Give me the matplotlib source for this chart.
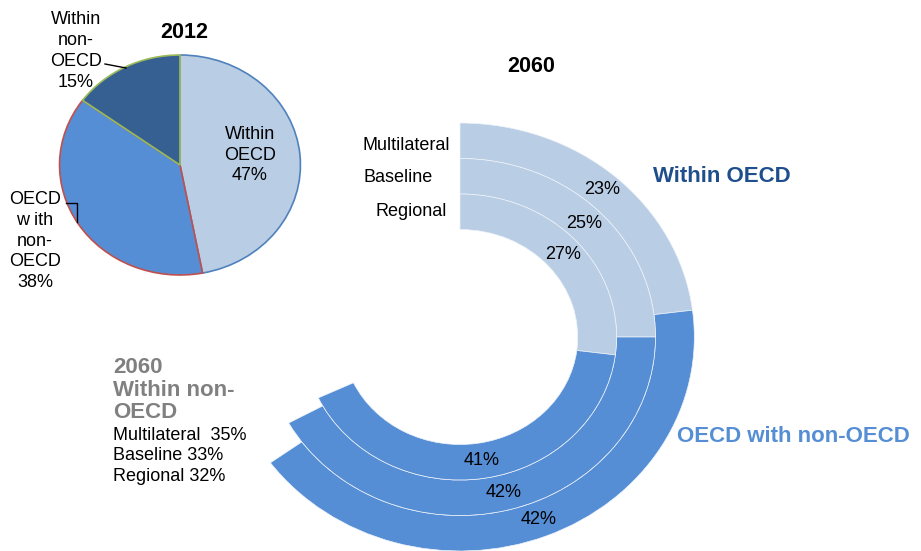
import numpy as np
import matplotlib.pyplot as plt

plt.rcParams['font.family'] = ['Liberation Sans', 'DejaVu Sans']

# 2012 trade shares
shares_2012 = [47, 38, 15]  # Within OECD, OECD with non-OECD, Within non-OECD

# 2060 scenarios, outer ring -> inner ring
scenarios = ["Multilateral", "Baseline", "Regional"]
within_oecd = [23, 25, 27]
oecd_with_non = [42, 42, 41]
within_non_oecd = [35, 33, 32]

W, H = 921, 551
SX = 1.095  # the original chart is a bit stretched horizontally

light = "#B9CDE5"
mid = "#558ED5"
dark = "#376092"

fig = plt.figure(figsize=(W / 100, H / 100), dpi=100)
ax = fig.add_axes([0, 0, 1, 1])


def px(x, y):
    # picture pixel -> pie axes coords
    return x / SX, H - y


# --- 2012 pie ---
wedges, _ = ax.pie(shares_2012, colors=[light, mid, dark], startangle=90,
                   counterclock=False, center=px(180, 165), radius=110,
                   wedgeprops=dict(linewidth=1.2))
for w, ec in zip(wedges, ["#4F81BD", "#C0504D", "#9BBB59"]):
    w.set_edgecolor(ec)

# --- 2060 rings ---
radii = [214, 178.5, 143]
ring_w = 35.5
cx, cy = px(460, 337)
for i, r in enumerate(radii):
    vals = [within_oecd[i], oecd_with_non[i], within_non_oecd[i]]
    ws, _ = ax.pie(vals, colors=[light, mid, "none"], startangle=90,
                   counterclock=False, center=(cx, cy), radius=r,
                   wedgeprops=dict(width=ring_w, edgecolor="#EEF3FA", linewidth=0.5))
    ws[2].set_visible(False)  # within non-OECD is left blank
    for w, v in zip(ws[:2], vals[:2]):
        a = np.deg2rad((w.theta1 + w.theta2) / 2)
        rm = w.r - w.width / 2
        ax.text(cx + rm * np.cos(a), cy + rm * np.sin(a), f"{v}%",
                ha="center", va="center", fontsize=13, color="black")

ax.set_xlim(0, W / SX)
ax.set_ylim(0, H)
ax.set_aspect("auto")
ax.axis("off")

# --- texts in picture pixel coords ---
at = fig.add_axes([0, 0, 1, 1], facecolor="none")
at.set_xlim(0, W)
at.set_ylim(H, 0)
at.axis("off")

at.text(184, 32, "2012", ha="center", va="center", fontsize=15.5, fontweight="bold")
at.text(531, 66, "2060", ha="center", va="center", fontsize=15.5, fontweight="bold")

at.text(250, 155, "Within\nOECD\n47%", ha="center", va="center", fontsize=13, linespacing=1.25)
at.text(76, 51, "Within\nnon-\nOECD\n15%", ha="center", va="center", fontsize=13, linespacing=1.3)
at.text(35, 241, "OECD\nw ith\nnon-\nOECD\n38%", ha="center", va="center", fontsize=13, linespacing=1.27)
at.plot([105, 126], [64, 68], color="black", lw=1)
at.plot([66, 77, 77], [203, 203, 222], color="black", lw=1)

for name, x, y in zip(scenarios, [362, 363, 375], [146, 178, 211]):
    at.text(x, y, name, ha="left", va="center", fontsize=13)

at.text(653, 177, "Within OECD", ha="left", va="center", fontsize=16,
        fontweight="bold", color="#1F4E8C")
at.text(677, 437, "OECD with non-OECD", ha="left", va="center", fontsize=16,
        fontweight="bold", color=mid)

at.text(113, 390, "2060\nWithin non-\nOECD", ha="left", va="center", fontsize=16,
        fontweight="bold", color="#808080", linespacing=1.12)
non_txt = "\n".join([f"{scenarios[0]}  {within_non_oecd[0]}%",
                     f"{scenarios[1]} {within_non_oecd[1]}%",
                     f"{scenarios[2]} {within_non_oecd[2]}%"])
at.text(113, 456, non_txt, ha="left", va="center", fontsize=13, linespacing=1.24)

fig.savefig("out.png", dpi=100)
